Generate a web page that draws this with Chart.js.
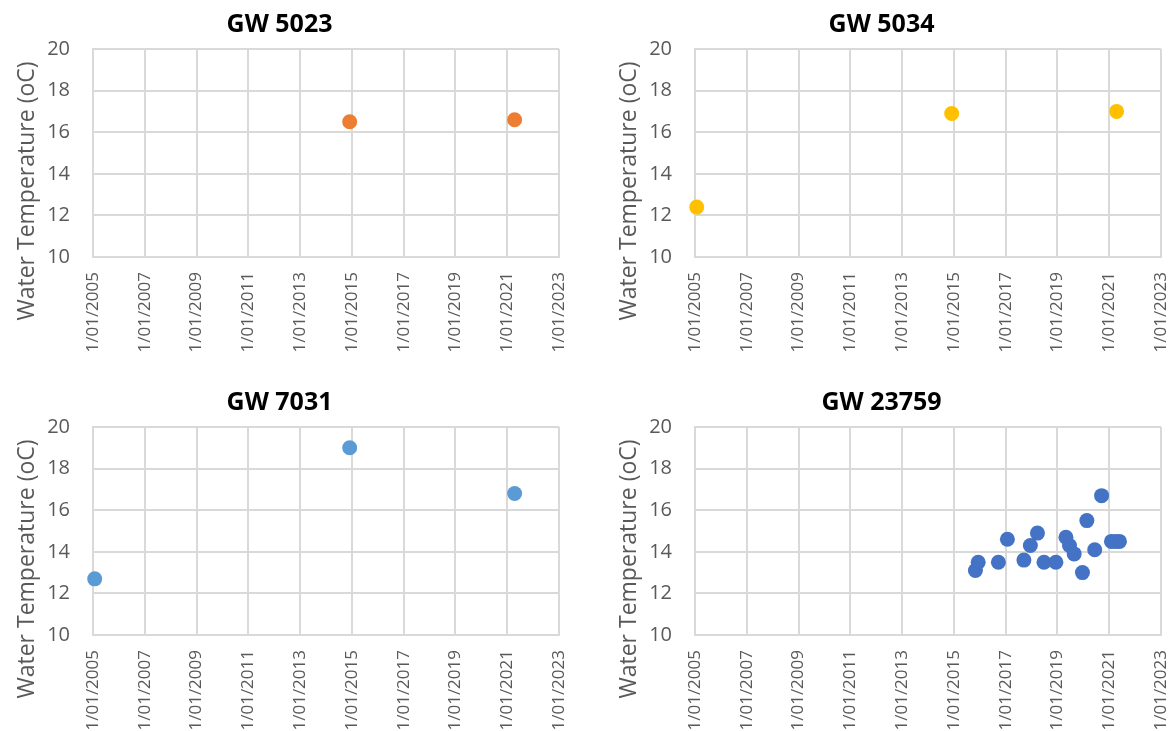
<!DOCTYPE html>
<html>
<head>
<meta charset="utf-8">
<script src="https://cdn.jsdelivr.net/npm/chart.js@4.4.1/dist/chart.umd.min.js"></script>
<style>
  html, body { margin: 0; padding: 0; background: #ffffff; }
  body { width: 1176px; height: 731px; position: relative; overflow: hidden; }
  .panel { position: absolute; width: 574px; height: 353px; }
  .panel canvas { display: block; }
</style>
</head>
<body>
<div class="panel" style="left:0px;top:0px"><canvas id="c1" width="574" height="353"></canvas></div>
<div class="panel" style="left:602px;top:0px"><canvas id="c2" width="574" height="353"></canvas></div>
<div class="panel" style="left:0px;top:378px"><canvas id="c3" width="574" height="353"></canvas></div>
<div class="panel" style="left:602px;top:378px"><canvas id="c4" width="574" height="353"></canvas></div>
<script>
// Bore names and tick years
const wellNames = ['GW 5023', 'GW 5034', 'GW 7031', 'GW 23759'];
const tickYears = [2005, 2007, 2009, 2011, 2013, 2015, 2017, 2019, 2021, 2023];
const tempTicks = [10, 12, 14, 16, 18, 20];
const yAxisTitle = 'Water Temperature (oC)';

// Sampling dates and water temperatures (oC) for each bore
const gw5023Dates = ['2014-12-01', '2021-04-15'];
const gw5023Temps = [16.5, 16.6];

const gw5034Dates = ['2005-01-25', '2014-12-01', '2021-04-15'];
const gw5034Temps = [12.4, 16.9, 17.0];

const gw7031Dates = ['2005-01-25', '2014-12-01', '2021-04-15'];
const gw7031Temps = [12.7, 19.0, 16.8];

const gw23759Dates = [
  '2015-11-01', '2015-12-10', '2016-09-20', '2017-01-25', '2017-09-15',
  '2017-12-15', '2018-03-25', '2018-06-25', '2018-12-10', '2019-05-01',
  '2019-06-20', '2019-08-25', '2019-12-20', '2020-02-20', '2020-06-10',
  '2020-09-15', '2021-02-01', '2021-04-01', '2021-05-25'
];
const gw23759Temps = [
  13.1, 13.5, 13.5, 14.6, 13.6,
  14.3, 14.9, 13.5, 13.5, 14.7,
  14.3, 13.9, 13.0, 15.5, 14.1,
  16.7, 14.5, 14.5, 14.5
];

const seriesColors = ['#ED7D31', '#FFC000', '#5B9BD5', '#4472C4'];

const FONT = "'Open Sans', 'DejaVu Sans', sans-serif";
const GRID = '#D9D9D9';
const TEXT = '#595959';

function toPoints(dates, temps) {
  return dates.map((d, i) => ({ x: Date.parse(d), y: temps[i] }));
}

// Vertical axis caption, centred on the plot plus the date labels below it
const axisCaption = {
  id: 'axisCaption',
  afterDraw(chart) {
    const { ctx, chartArea } = chart;
    const xScale = chart.scales.x;
    const cy = (chartArea.top + xScale.bottom) / 2 - 10;
    ctx.save();
    ctx.translate(27, cy);
    ctx.rotate(-Math.PI / 2);
    ctx.fillStyle = TEXT;
    ctx.font = "23px " + FONT;
    ctx.textAlign = 'center';
    ctx.textBaseline = 'middle';
    ctx.fillText(yAxisTitle, 0, 0);
    ctx.restore();
  }
};

function makeChart(canvasId, title, dates, temps, color) {
  const ctx = document.getElementById(canvasId);
  return new Chart(ctx, {
    type: 'scatter',
    data: {
      datasets: [{
        label: title,
        data: toPoints(dates, temps),
        backgroundColor: color,
        borderColor: color,
        borderWidth: 0,
        pointRadius: 7.5,
        pointHoverRadius: 7.5,
        clip: false
      }]
    },
    plugins: [axisCaption],
    options: {
      responsive: false,
      animation: false,
      devicePixelRatio: 1,
      layout: { padding: { left: 0, right: 15, top: 0, bottom: 0 } },
      plugins: {
        legend: { display: false },
        tooltip: { enabled: false },
        title: {
          display: true,
          text: title,
          color: '#000000',
          font: { family: FONT, size: 25, weight: 'bold' },
          padding: { top: 10, bottom: 9 }
        }
      },
      scales: {
        x: {
          type: 'linear',
          min: Date.UTC(tickYears[0], 0, 1),
          max: Date.UTC(tickYears[tickYears.length - 1], 0, 1),
          afterBuildTicks: (scale) => {
            scale.ticks = tickYears.map(y => ({ value: Date.UTC(y, 0, 1) }));
          },
          afterFit: (scale) => {
            scale.height = 96;
            scale.paddingLeft = 0;
            scale.paddingRight = 0;
          },
          grid: { color: GRID, lineWidth: 2, drawTicks: false },
          border: { color: GRID, width: 2 },
          ticks: {
            minRotation: 90,
            maxRotation: 90,
            autoSkip: false,
            padding: 15,
            color: TEXT,
            font: { family: FONT, size: 17 },
            callback: (v) => '1/01/' + new Date(v).getUTCFullYear()
          }
        },
        y: {
          min: tempTicks[0],
          max: tempTicks[tempTicks.length - 1],
          afterBuildTicks: (scale) => {
            scale.ticks = tempTicks.map(v => ({ value: v }));
          },
          afterFit: (scale) => { scale.width = 93; },
          grid: { color: GRID, lineWidth: 2, drawTicks: false },
          border: { color: GRID, width: 2 },
          ticks: {
            padding: 23,
            color: TEXT,
            font: { family: FONT, size: 20 }
          },
          title: { display: false }
        }
      }
    }
  });
}

makeChart('c1', wellNames[0], gw5023Dates, gw5023Temps, seriesColors[0]);
makeChart('c2', wellNames[1], gw5034Dates, gw5034Temps, seriesColors[1]);
makeChart('c3', wellNames[2], gw7031Dates, gw7031Temps, seriesColors[2]);
makeChart('c4', wellNames[3], gw23759Dates, gw23759Temps, seriesColors[3]);
</script>
</body>
</html>
